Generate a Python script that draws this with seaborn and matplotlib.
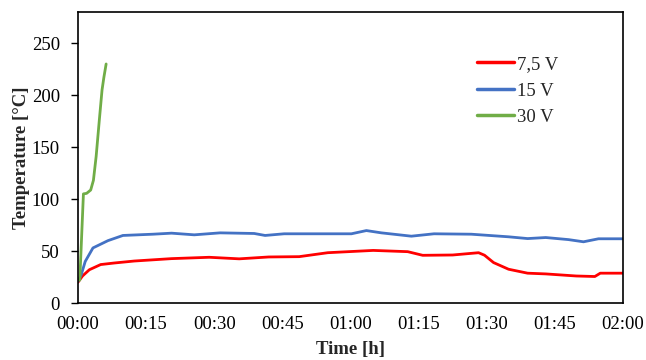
import pandas as pd
import matplotlib
matplotlib.use('Agg')
import matplotlib.pyplot as plt
import seaborn as sns

# time in minutes since start, temperature in °C
red_time = [0, 1, 2.5, 5, 8, 12.4, 20.6, 28.9, 35.5, 42, 48.7, 55, 60, 65, 72.6, 75.9,
            82.5, 88.2, 89.5, 91.5, 94.8, 99, 103, 109.7, 113.8, 115, 120]
red_temp = [20, 26, 32, 37, 38.5, 40.4, 42.7, 44, 42.5, 44.3, 44.6, 48.4, 49.5, 50.6, 49.4, 45.9,
            46.2, 48.4, 46, 38.9, 32.5, 28.7, 28, 26, 25.5, 28.7, 28.7]

blue_time = [0, 0.7, 1.6, 3.3, 6.6, 9.9, 16.5, 20.6, 25.6, 31.3, 38.8, 41.2, 45.4, 53.6, 60.2,
             63.5, 66.8, 73.4, 78.4, 86.6, 94.8, 99, 103, 108, 111.3, 114.6, 120]
blue_temp = [21, 27, 40, 53, 60, 65, 66.2, 67.2, 65.6, 67.5, 66.9, 65, 66.6, 66.6, 66.6,
             69.7, 67.5, 64.3, 66.6, 66.2, 63.7, 62, 63, 61, 58.9, 61.8, 61.8]

green_time = [0, 0.4, 1.2, 1.9, 2.8, 3.4, 4.0, 4.7, 5.3, 5.7, 6.2]
green_temp = [22, 22, 105, 105.5, 108.7, 118, 141, 176, 205, 217, 230]

series_names = ['7,5 V', '15 V', '30 V']
series_colors = ['#FF0000', '#4472C4', '#70AD47']

x_ticks = [0, 15, 30, 45, 60, 75, 90, 105, 120]
x_tick_labels = ['00:00', '00:15', '00:30', '00:45', '01:00', '01:15', '01:30', '01:45', '02:00']
y_ticks = [0, 50, 100, 150, 200, 250]

df = pd.concat([
    pd.DataFrame({'time': red_time, 'temp': red_temp, 'series': series_names[0]}),
    pd.DataFrame({'time': blue_time, 'temp': blue_temp, 'series': series_names[1]}),
    pd.DataFrame({'time': green_time, 'temp': green_temp, 'series': series_names[2]}),
])

sns.set_style('ticks')
plt.rcParams['font.family'] = ['Liberation Serif', 'DejaVu Serif']

fig = plt.figure(figsize=(6.46, 3.6), dpi=100)
ax = fig.add_axes([0.1207, 0.1583, 0.8437, 0.8084])

sns.lineplot(data=df, x='time', y='temp', hue='series', palette=series_colors,
             linewidth=2.0, sort=False, estimator=None, ax=ax)

ax.set_xlim(0, 120)
ax.set_ylim(0, 280)
ax.set_xticks(x_ticks)
ax.set_xticklabels(x_tick_labels)
ax.set_yticks(y_ticks)
ax.tick_params(axis='both', labelsize=13.5, colors='black')
ax.tick_params(axis='x', length=0, pad=9)
ax.tick_params(axis='y', length=5, width=1, pad=8)
for s in ax.spines.values():
    s.set_color('black')
    s.set_linewidth(1.2)

ax.set_xlabel('Time [h]', fontsize=13.5, fontweight='bold', labelpad=6)
ax.set_ylabel('Temperature [°C]', fontsize=13.5, fontweight='bold', labelpad=1)

leg = ax.legend(loc='upper left', bbox_to_anchor=(0.732, 0.849), frameon=False,
                fontsize=13.5, handlelength=2.0, handletextpad=0.15, labelspacing=0.5,
                borderpad=0, borderaxespad=0)
for line in leg.get_lines():
    line.set_linewidth(2.5)

fig.savefig('out.png', dpi=100)
